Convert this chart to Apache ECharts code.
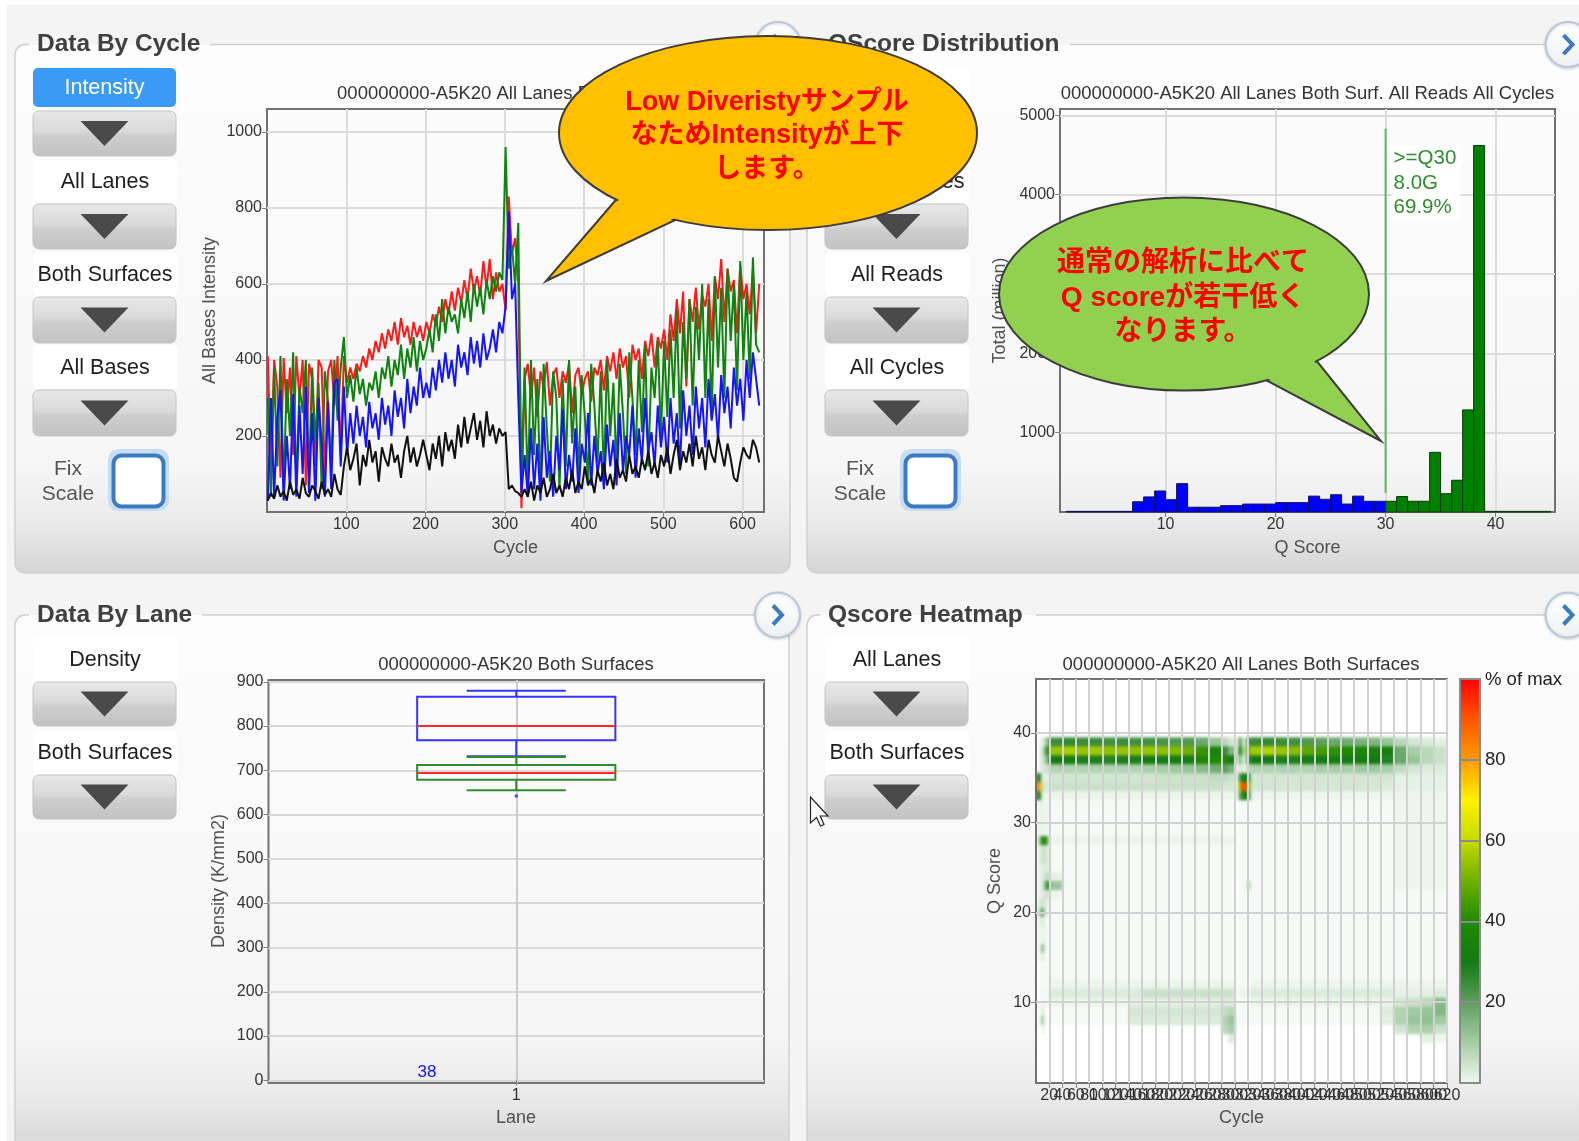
<!DOCTYPE html>
<html>
<head>
<meta charset="utf-8">
<script src="https://cdn.jsdelivr.net/npm/echarts@6/dist/echarts.min.js"></script>
<style>
  html, body { margin: 0; padding: 0; background: #ffffff; }
  #stage { position: relative; width: 1579px; height: 1141px; overflow: hidden; }
  #base, #overlay { position: absolute; left: 0; top: 0; width: 1579px; height: 1141px; }
  #heatClip { position: absolute; overflow: hidden; }
  #heat { position: absolute; left: 0; top: 0; filter: blur(1.6px); }
  #overlay { pointer-events: none; }
</style>
</head>
<body>
<div id="stage">
  <div id="base"></div>
  <div id="heatClip"><div id="heat"></div></div>
  <div id="overlay"></div>
</div>
<script>
// ---------------- Data by cycle: mean intensity per channel (every 4th cycle from cycle 1) ----------------
const CYCLE_START = 1;
const CYCLE_STEP = 4;
const intensityRed = [
  410,120,400,330,90,405,260,380,150,410,300,400,70,390,350,120,400,380,90,370,400,280,410,150,
  410,340,380,350,390,370,410,380,430,400,450,420,470,430,480,450,500,440,510,460,490,440,500,460,490,450,
  500,470,520,490,540,500,560,520,580,530,590,550,610,560,640,580,620,570,660,590,665,560,630,580,600,
  530,830,680,720,600,10,
  350,390,300,380,250,370,330,395,280,360,380,300,370,340,390,260,360,380,310,350,370,290,380,360,400,320,410,370,420,350,430,380,410,300,440,400,430,350,450,410,470,380,460,430,
  480,400,520,450,560,470,580,330,560,500,590,480,570,540,600,450,620,560,665,500,640,580,610,470,650,560,600,520,640,470,600
];
const intensityGreen = [
  300,40,380,120,410,60,350,200,420,70,330,260,400,90,380,180,340,60,370,290,110,400,240,380,
  460,300,360,290,380,310,350,280,340,320,370,300,380,350,410,330,400,360,440,350,430,380,460,370,450,400,
  430,480,420,520,450,560,470,540,500,520,470,560,510,580,500,600,540,590,520,610,560,620,580,630,610,
  960,640,700,600,760,80,
  380,60,400,150,350,50,390,220,80,370,300,60,350,120,400,180,330,90,360,250,70,390,280,130,370,90,400,200,340,110,390,260,100,420,300,150,400,210,440,120,380,300,450,200,
  450,250,480,300,530,220,500,350,560,280,540,400,600,300,560,250,620,380,590,300,640,450,600,320,660,400,580,350,670,440,420
];
const intensityBlue = [
  30,300,40,250,320,30,200,60,310,40,280,100,330,50,260,30,300,180,40,290,60,340,350,120,
  330,150,260,180,280,200,250,170,290,220,260,190,300,230,280,200,320,250,300,220,350,260,330,280,380,300,
  340,300,380,320,400,340,420,350,400,330,440,380,420,360,460,390,450,380,470,400,430,480,420,500,470,
  540,790,560,600,300,50,
  150,40,220,60,180,30,250,90,160,40,200,110,270,60,150,80,220,50,180,130,260,70,200,100,160,60,230,120,190,70,260,110,200,150,280,90,220,130,300,160,210,120,280,170,
  250,130,300,180,260,120,320,200,280,150,330,220,300,170,350,240,310,190,360,260,330,220,380,280,350,240,400,300,420,350,280
];
const intensityBlack = [
  30,50,35,70,40,55,30,80,45,60,35,90,50,40,70,55,35,80,45,60,40,100,60,45,
  120,170,110,140,180,70,150,120,190,130,160,80,170,140,120,180,130,150,90,160,200,130,170,120,150,190,
  150,110,180,140,200,120,210,160,190,140,230,170,250,180,220,260,190,240,170,265,200,230,180,220,200,
  210,60,70,55,50,40,
  60,40,80,30,70,50,90,40,60,100,50,70,40,90,60,110,50,80,60,120,70,90,50,110,80,130,70,100,60,140,90,110,80,150,100,120,90,140,110,160,100,130,90,150,
  120,170,100,150,190,110,160,130,180,120,200,140,170,110,190,150,130,200,160,120,180,140,90,80,130,170,150,140,190,170,130
];
const cycleTicks = [100, 200, 300, 400, 500, 600];
const intensityTicks = [200, 400, 600, 800, 1000];

// ---------------- QScore distribution (millions of bases per Q score) ----------------
const qscoreBins = [1,2,3,4,5,6,7,8,9,10,11,12,13,14,15,16,17,18,19,20,21,22,23,24,25,26,27,28,29,30,31,32,33,34,35,36,37,38,39,40,41,42,43,44];
const qscoreTotals = [8,8,8,8,8,8,129,190,265,155,357,60,60,60,80,80,100,100,100,118,118,118,200,160,218,100,200,135,135,135,195,135,135,752,231,400,1287,4620,8,8,8,8,8,8];
const q30Threshold = 30;
const q30LineSpan = [240, 4830];
const q30Summary = ['>=Q30', '8.0G', '69.9%'];
const qscoreTicksX = [10, 20, 30, 40];
const qscoreTicksY = [1000, 2000, 3000, 4000, 5000];

// ---------------- Data by lane: cluster density box plots ----------------
const laneTicks = [1];
const densityBoxBlue = [732, 768, 800, 866, 880];   // min, q1, median, q3, max
const densityBoxGreen = [655, 679, 694, 712, 730];
const densityOutliers = [642];
const laneTileCount = '38';
const densityTicks = [0, 100, 200, 300, 400, 500, 600, 700, 800, 900];

// ---------------- Qscore heatmap (% of max, rows = Q score, columns = cycle ranges) ----------------
const heatCycleEdges = [0,4,8,12,16,20,40,60,80,100,120,140,160,180,200,220,240,260,280,290,300,305,310,318,324,340,360,380,400,420,440,460,480,500,520,540,560,580,600,620];
const heatQScores = [39,38,37,36,35,34,33,32,31,30,29,28,27,26,25,24,23,22,21,20,19,18,17,16,15,14,13,12,11,10,9,8,7,6];
const heatValues = [
  [0,2,3,8,15, 25,26,25,25,24,25,24,24,23,22,22,18,12,8,5, 0, 20,6,22, 25,26,25,24,22,20,18,17,16,15,12, 8,5,4,3],
  [0,3,6,18,36, 55,57,55,56,54,55,54,55,54,52,50,43,35,25,15, 0, 38,10,52, 56,58,55,53,48,45,42,40,38,36,32, 18,10,8,6],
  [0,3,5,10,18, 30,30,29,29,28,29,29,30,30,31,32,38,40,38,30, 0, 15,5,25, 30,30,29,29,30,30,31,31,32,30,28, 18,12,8,6],
  [0,3,4,5,6, 9,9,9,9,9,9,9,10,10,11,12,14,17,20,16, 0, 5,3,7, 9,9,9,9,9,10,10,10,11,11,10, 7,5,4,4],
  [30,25,3,3,3, 5,5,5,5,5,5,5,5,6,6,6,6,7,7,6, 0, 22,32,22, 5,5,5,5,5,5,5,5,5,5,5, 3,3,3,3],
  [90,75,8,4,4, 6,6,6,6,6,6,6,6,6,6,6,6,6,5,5, 0, 55,92,55, 5,5,5,5,5,5,5,5,5,5,4, 3,3,3,3],
  [30,25,3,2,2, 2,2,2,2,2,2,2,2,2,2,2,2,2,2,2, 0, 18,32,20, 2,2,2,2,2,2,2,2,2,2,2, 2,2,2,2],
  [1,3,2,2,2, 1,1,1,1,1,1,1,1,1,1,1,1,1,1,1, 0, 1,1,1, 1,1,1,1,1,1,1,1,1,1,1, 2,2,2,2],
  [1,3,2,2,2, 1,1,1,1,1,1,1,1,1,1,1,1,1,1,1, 0, 1,1,1, 1,1,1,1,1,1,1,1,1,1,1, 2,2,2,2],
  [1,3,2,2,2, 1,1,1,1,1,1,1,1,1,1,1,1,1,1,1, 0, 1,1,1, 1,1,1,1,1,1,1,1,1,1,1, 2,2,2,2],
  [1,3,2,2,2, 1,1,1,1,1,1,1,1,1,1,1,1,1,1,1, 0, 1,1,1, 1,1,1,1,1,1,1,1,1,1,1, 2,2,2,2],
  [1,15,40,40,15, 2,2,2,2,2,2,2,2,2,2,2,2,2,2,2, 0, 1,1,1, 1,1,1,1,1,1,1,1,1,1,1, 2,2,2,2],
  [1,4,6,6,4, 1,1,1,1,1,1,1,1,1,1,1,1,1,1,1, 0, 1,1,1, 1,1,1,1,1,1,1,1,1,1,1, 2,2,2,2],
  [1,4,6,6,4, 1,1,1,1,1,1,1,1,1,1,1,1,1,1,1, 0, 1,1,1, 1,1,1,1,1,1,1,1,1,1,1, 2,2,2,2],
  [1,3,4,4,4, 1,1,1,1,1,1,1,1,1,1,1,1,1,1,1, 0, 1,1,1, 1,1,1,1,1,1,1,1,1,1,1, 2,2,2,2],
  [1,3,4,6,8, 3,1,1,1,1,1,1,1,1,1,1,1,1,1,1, 0, 1,1,1, 1,1,1,1,1,1,1,1,1,1,1, 2,2,2,2],
  [1,3,4,15,38, 12,1,1,1,1,1,1,1,1,1,1,1,1,1,1, 0, 1,1,8, 1,1,1,1,1,1,1,1,1,1,1, 2,2,2,2],
  [1,3,4,5,6, 2,1,1,1,1,1,1,1,1,1,1,1,1,1,1, 0, 1,1,1, 1,1,1,1,1,1,1,1,1,1,1, 1,1,1,1],
  [1,5,6,4,3, 1,1,1,1,1,1,1,1,1,1,1,1,1,1,1, 0, 1,1,1, 1,1,1,1,1,1,1,1,1,1,1, 1,1,1,1],
  [1,10,20,4,2, 1,1,1,1,1,1,1,1,1,1,1,1,1,1,1, 0, 1,1,1, 1,1,1,1,1,1,1,1,1,1,1, 1,1,1,1],
  [1,3,4,2,1, 1,1,1,1,1,1,1,1,1,1,1,1,1,1,1, 0, 1,1,1, 1,1,1,1,1,1,1,1,1,1,1, 1,1,1,1],
  [1,2,2,2,1, 1,1,1,1,1,1,1,1,1,1,1,1,1,1,1, 0, 1,1,1, 1,1,1,1,1,1,1,1,1,1,1, 1,1,1,1],
  [1,2,2,2,1, 1,1,1,1,1,1,1,1,1,1,1,1,1,1,1, 0, 1,1,1, 1,1,1,1,1,1,1,1,1,1,1, 1,1,1,1],
  [1,2,15,2,1, 1,1,1,1,1,1,1,1,1,1,1,1,1,1,1, 0, 1,1,1, 1,1,1,1,1,1,1,1,1,1,1, 1,1,1,1],
  [1,1,4,1,1, 1,1,1,1,1,1,1,1,1,1,1,1,1,1,1, 0, 1,1,1, 1,1,1,1,1,1,1,1,1,1,1, 1,1,1,1],
  [0,1,1,1,1, 1,1,1,1,1,1,1,1,1,1,1,1,1,1,1, 0, 1,1,1, 1,1,1,1,1,1,1,1,1,1,1, 1,1,1,1],
  [0,1,1,1,1, 1,1,1,1,1,1,1,1,1,1,1,1,1,1,1, 0, 1,1,1, 1,1,1,1,1,1,1,1,1,1,1, 1,1,1,1],
  [0,1,1,1,1, 2,2,2,2,2,2,2,2,2,2,2,2,2,2,2, 0, 1,1,1, 2,2,2,2,2,2,2,2,2,2,2, 2,2,2,2],
  [0,1,2,1,1, 4,4,4,4,4,4,4,6,6,6,6,6,6,6,6, 0, 2,2,2, 4,4,4,4,4,4,4,4,4,4,4, 3,3,3,4],
  [0,1,2,1,1, 2,2,2,2,2,2,3,3,3,3,3,3,3,4,4, 0, 1,1,1, 2,2,2,2,2,2,2,2,2,2,2, 5,6,8,14],
  [0,1,4,1,0, 1,1,1,1,1,1,5,5,5,5,5,5,5,7,8, 0, 1,1,1, 1,1,1,1,1,1,1,1,1,1,4, 9,11,12,15],
  [0,2,12,1,0, 1,1,1,1,1,1,4,4,4,4,4,4,4,9,12, 0, 1,1,1, 1,1,1,1,1,1,1,1,1,1,3, 9,12,13,11],
  [0,0,2,0,0, 0,0,0,0,0,0,0,0,0,0,0,0,0,8,10, 0, 0,0,0, 0,0,0,0,0,0,0,0,0,0,0, 5,9,10,6],
  [0,0,0,0,0, 0,0,0,0,0,0,0,0,0,0,0,0,0,0,4, 0, 0,0,0, 0,0,0,0,0,0,0,0,0,0,0, 0,0,3,2]
];
const heatCycleTicks = [20,40,60,80,100,120,140,160,180,200,220,240,260,280,300,320,340,360,380,400,420,440,460,480,500,520,540,560,580,600,620];
const heatQTicks = [10, 20, 30, 40];
const heatColorStops = ['#ffffff', '#a6cfa6', '#5e9f5e', '#157a15', '#1f8a00', '#6fb000', '#c5dc00', '#fff200', '#ff9900', '#ff5500', '#ff0000'];
const heatLegendColors = ['#f2f8f2', '#a6cfa6', '#5e9f5e', '#157a15', '#1f8a00', '#6fb000', '#c5dc00', '#fff200', '#ff9900', '#ff5500', '#ff0000'];
const heatLegendTicks = [20, 40, 60, 80];

// ---------------- layout ----------------
const FONT = '"Liberation Sans", Arial, "Noto Sans CJK JP", sans-serif';
const LABEL_COLOR = '#333333';
const NAME_COLOR = '#505050';
const GRID_INTENSITY = { left: 267, top: 109, width: 497, height: 403 };
const GRID_QSCORE = { left: 1060, top: 109, width: 495, height: 403 };
const GRID_DENSITY = { left: 268.5, top: 680, width: 495.5, height: 403 };
const GRID_HEAT = { left: 1036, top: 679, width: 411, height: 404 };
const GRID_LEGEND = { left: 1460, top: 679, width: 20, height: 404 };
const BOX_HALF = 0.2, CAP_HALF = 0.1;

const CENTER = { align: 'center', verticalAlign: 'middle', textAlign: 'center', textVerticalAlign: 'middle' };
const LEFT = { align: 'left', verticalAlign: 'middle', textAlign: 'left', textVerticalAlign: 'middle' };

function text(x, y, str, size, color, opts) {
  opts = opts || {};
  return {
    type: 'text', x, y, z: opts.z == null ? 5 : opts.z, rotation: opts.rotation || 0,
    style: Object.assign({ text: str, fill: color, font: (opts.weight || 'normal') + ' ' + size + 'px ' + FONT,
      lineHeight: opts.lineHeight }, opts.left ? LEFT : CENTER)
  };
}
function vgrad(stops) {
  return { type: 'linear', x: 0, y: 0, x2: 0, y2: 1, colorStops: stops.map(s => ({ offset: s[0], color: s[1] })) };
}
function gridRect(g) { return { x: g.left, y: g.top, width: g.width, height: g.height }; }

// ---------------- UI chrome ----------------
const g = [];
g.push({ type: 'rect', z: -20, shape: { x: 0, y: 0, width: 1579, height: 1141 }, style: { fill: '#ffffff' } });
g.push({ type: 'rect', z: -19, shape: { x: 7, y: 5, width: 1572, height: 1136 }, style: { fill: '#f4f4f4' } });

const topPanelFill = vgrad([[0, '#fdfdfd'], [0.8, '#f6f6f6'], [0.9, '#ebebeb'], [1, '#d5d5d5']]);
const bottomPanelFill = vgrad([[0, '#fdfdfd'], [0.75, '#f5f5f5'], [0.85, '#ebebeb'], [0.94, '#dadada'], [1, '#d0d0d0']]);
function panel(x, y, w, h, fill) {
  g.push({ type: 'rect', z: -18, shape: { x, y, width: w, height: h, r: 10 }, style: { fill, stroke: '#d0d0d0', lineWidth: 1.5 } });
}
panel(15, 44.6, 775, 528.4, topPanelFill);
panel(807, 44.6, 800, 528.4, topPanelFill);
panel(15, 615, 774, 560, bottomPanelFill);
panel(807, 615, 800, 560, bottomPanelFill);

function panelTitle(x, y, str, coverEnd) {
  g.push({ type: 'rect', z: -17, shape: { x: x - 8, y: y - 15, width: coverEnd - x + 8, height: 30 },
    style: { fill: vgrad([[0, '#f4f4f4'], [0.5, '#f4f4f4'], [0.5, '#fdfdfd'], [1, '#fdfdfd']]) } });
  g.push(text(x, y, str, 24.5, '#404040', { weight: 'bold', left: true, z: -16 }));
}
panelTitle(37, 44.6, 'Data By Cycle', 210);
panelTitle(828, 44.6, 'QScore Distribution', 1070);
panelTitle(37, 615, 'Data By Lane', 202);
panelTitle(828, 615, 'Qscore Heatmap', 1036);

function roundButton(cx, cy) {
  g.push({ type: 'circle', z: 3, shape: { cx, cy, r: 22.5 },
    style: { fill: vgrad([[0, '#ffffff'], [1, '#eef1f4']]), stroke: '#b9c8da', lineWidth: 2,
      shadowBlur: 3, shadowColor: 'rgba(0,0,0,0.15)', shadowOffsetY: 1 } });
  g.push({ type: 'polyline', z: 4, shape: { points: [[cx - 4.5, cy - 9.5], [cx + 4.5, cy], [cx - 4.5, cy + 9.5]] },
    style: { stroke: '#3a7bbf', lineWidth: 4, fill: 'none', lineJoin: 'miter' } });
}
roundButton(778, 44.6);
roundButton(1568, 44.6);
roundButton(777.5, 615);
roundButton(1568, 615);

function arrowButton(x, y, h) {
  const w = 143, cx = x + w / 2, cy = y + h / 2;
  g.push({ type: 'rect', z: 1, shape: { x, y, width: w, height: h, r: 6 },
    style: { fill: vgrad([[0, '#e9e9e9'], [0.45, '#dadada'], [0.55, '#cecece'], [1, '#c2c2c2']]), stroke: '#c4c4c4', lineWidth: 1 } });
  g.push({ type: 'polygon', z: 2, shape: { points: [[cx - 24, cy - 12.5], [cx + 24, cy - 12.5], [cx, cy + 12.5]] }, style: { fill: '#4a4a4a' } });
}
function labelBox(x, y, h, str) {
  g.push({ type: 'rect', z: 1, shape: { x, y, width: 145, height: h, r: 5 }, style: { fill: '#ffffff' } });
  g.push(text(x + 72, y + h / 2 + 1, str, 21.5, '#1e1e1e', { z: 2 }));
}
function fixScale(x) {
  g.push(text(x + 35, 482, 'Fix\nScale', 21, '#555555', { z: 2, lineHeight: 24.6 }));
  g.push({ type: 'rect', z: 1, shape: { x: x + 75, y: 449, width: 61, height: 62, r: 10 }, style: { fill: '#c9ddf0' } });
  g.push({ type: 'rect', z: 2, shape: { x: x + 80.5, y: 455.5, width: 50, height: 51, r: 8 }, style: { fill: '#ffffff', stroke: '#3b7bc4', lineWidth: 4 } });
}

// Data By Cycle controls
g.push({ type: 'rect', z: 1, shape: { x: 33, y: 68, width: 143, height: 39, r: 5 }, style: { fill: '#3a9bf7' } });
g.push(text(104.5, 88, 'Intensity', 21.5, '#ffffff', { z: 2 }));
arrowButton(33, 111, 45);
labelBox(33, 160, 42, 'All Lanes');
arrowButton(33, 204, 45);
labelBox(33, 252, 44, 'Both Surfaces');
arrowButton(33, 297, 46);
labelBox(33, 345, 44, 'All Bases');
arrowButton(33, 390, 46);
fixScale(33);

// QScore Distribution controls
labelBox(825, 66, 42, 'All Lanes');
arrowButton(825, 111, 45);
labelBox(825, 160, 42, 'Both Surfaces');
arrowButton(825, 204, 45);
labelBox(825, 252, 44, 'All Reads');
arrowButton(825, 297, 46);
labelBox(825, 345, 44, 'All Cycles');
arrowButton(825, 390, 46);
fixScale(825);

// Data By Lane / Heatmap controls
labelBox(33, 637, 44, 'Density');
arrowButton(33, 682, 44);
labelBox(33, 731, 43, 'Both Surfaces');
arrowButton(33, 775, 44);
labelBox(825, 637, 44, 'All Lanes');
arrowButton(825, 682, 44);
labelBox(825, 731, 43, 'Both Surfaces');
arrowButton(825, 775, 44);

// chart titles and axis names
const TITLE_SIZE = 18.5, NAME_SIZE = 18;
g.push(text(515.5, 94, '000000000-A5K20 All Lanes Both Surfaces', TITLE_SIZE, LABEL_COLOR));
g.push(text(1307.5, 94, '000000000-A5K20 All Lanes Both Surf. All Reads All Cycles', TITLE_SIZE, LABEL_COLOR));
g.push(text(516, 665, '000000000-A5K20 Both Surfaces', TITLE_SIZE, LABEL_COLOR));
g.push(text(1241, 665, '000000000-A5K20 All Lanes Both Surfaces', TITLE_SIZE, LABEL_COLOR));
g.push(text(210, 310.5, 'All Bases Intensity', NAME_SIZE, NAME_COLOR, { rotation: Math.PI / 2 }));
g.push(text(515.5, 548, 'Cycle', NAME_SIZE, NAME_COLOR));
g.push(text(1000, 310.5, 'Total (million)', NAME_SIZE, NAME_COLOR, { rotation: Math.PI / 2 }));
g.push(text(1307.5, 548, 'Q Score', NAME_SIZE, NAME_COLOR));
g.push(text(219, 881, 'Density (K/mm2)', NAME_SIZE, NAME_COLOR, { rotation: Math.PI / 2 }));
g.push(text(516, 1118, 'Lane', NAME_SIZE, NAME_COLOR));
g.push(text(995.5, 881, 'Q Score', NAME_SIZE, NAME_COLOR, { rotation: Math.PI / 2 }));
g.push(text(1241.5, 1118, 'Cycle', NAME_SIZE, NAME_COLOR));
g.push(text(1485, 680, '% of max', 18.5, '#222222', { left: true }));

// heatmap plot background
g.push({ type: 'rect', z: -1, shape: gridRect(GRID_HEAT), style: { fill: '#ffffff' } });

// speech bubbles
function dist(a, b) { return Math.hypot(a[0] - b[0], a[1] - b[1]); }
function shrinkTriangle(pts, d) {
  const [A, B, C] = pts;
  const a = dist(B, C), b = dist(A, C), c = dist(A, B), p = a + b + c;
  const I = [(a * A[0] + b * B[0] + c * C[0]) / p, (a * A[1] + b * B[1] + c * C[1]) / p];
  const area = Math.abs((B[0] - A[0]) * (C[1] - A[1]) - (C[0] - A[0]) * (B[1] - A[1])) / 2;
  const r = area / (p / 2), k = (r - d) / r;
  return pts.map(P => [I[0] + (P[0] - I[0]) * k, I[1] + (P[1] - I[1]) * k]);
}
function bubble(cx, cy, rx, ry, tail, fill, str, tx, ty, size, lh) {
  g.push({ type: 'polygon', z: 50, shape: { points: tail }, style: { fill, stroke: '#3c3c3c', lineWidth: 2, lineJoin: 'miter' } });
  g.push({ type: 'ellipse', z: 51, shape: { cx, cy, rx, ry }, style: { fill, stroke: '#3c3c3c', lineWidth: 2 } });
  g.push({ type: 'polygon', z: 52, shape: { points: shrinkTriangle(tail, 2.2) }, style: { fill } });
  g.push(text(tx, ty, str, size, '#ff0000', { weight: 'bold', z: 53, lineHeight: lh }));
}
bubble(768, 133, 209, 97, [[621, 194], [686, 215], [546, 281]], '#ffc000',
  'Low Diveristyサンプル\nなためIntensityが上下\nします。', 767, 136, 27, 33.5);
bubble(1184, 294, 185, 96.5, [[1312, 355], [1258, 376], [1381, 441]], '#92d050',
  '通常の解析に比べて\nQ scoreが若干低く\nなります。', 1183, 298, 28, 34.5);

// mouse pointer
const tip = [810.5, 797];
g.push({ type: 'polygon', z: 60,
  shape: { points: [[0, 0], [0, 26], [6, 20.5], [10, 29], [13.5, 27.5], [9.7, 19], [17.5, 19]].map(p => [tip[0] + p[0], tip[1] + p[1]]) },
  style: { fill: '#ffffff', stroke: '#222222', lineWidth: 1.2, lineJoin: 'miter' } });

// ---------------- axes helpers ----------------
const plainNumber = v => String(v);
function valueAxis(gridIndex, min, max, ticks, extra) {
  return Object.assign({
    type: 'value', gridIndex, min, max,
    axisLine: { show: false },
    axisTick: { show: true, customValues: ticks, length: 5, lineStyle: { color: '#808080', width: 1 } },
    axisLabel: { customValues: ticks, formatter: plainNumber, fontSize: 16, color: LABEL_COLOR, fontFamily: FONT, margin: 5,
      hideOverlap: false, showMinLabel: true, showMaxLabel: true },
    splitLine: { show: true, lineStyle: { color: '#dcdcdc', width: 2 } },
    splitArea: { show: false }
  }, extra || {});
}
function gridOf(r, extra) {
  return Object.assign({ left: r.left, top: r.top, width: r.width, height: r.height, containLabel: false,
    outerBoundsMode: 'none', show: true, backgroundColor: 'transparent', borderColor: '#727272', borderWidth: 2 }, extra || {});
}
const toCycleSeries = vals => vals.map((v, i) => [CYCLE_START + i * CYCLE_STEP, v]);
function intensityLine(name, vals, color) {
  return { type: 'line', name, xAxisIndex: 0, yAxisIndex: 0, data: toCycleSeries(vals), showSymbol: false, symbol: 'none',
    lineStyle: { color, width: 2 }, itemStyle: { color }, animation: false, z: 2 };
}
function boxRenderer(color, withCount) {
  return function (params, api) {
    const x = api.value(0);
    const mn = api.value(1), q1 = api.value(2), md = api.value(3), q3 = api.value(4), mx = api.value(5);
    const y = v => api.coord([x, v])[1];
    const c = api.coord([x, 0])[0];
    const bl = api.coord([x - BOX_HALF, 0])[0], br = api.coord([x + BOX_HALF, 0])[0];
    const cl = api.coord([x - CAP_HALF, 0])[0], cr = api.coord([x + CAP_HALF, 0])[0];
    const st = { stroke: color, lineWidth: 2, fill: 'none' };
    const kids = [
      { type: 'line', shape: { x1: c, y1: y(q3), x2: c, y2: y(mx) }, style: st },
      { type: 'line', shape: { x1: c, y1: y(q1), x2: c, y2: y(mn) }, style: st },
      { type: 'line', shape: { x1: cl, y1: y(mx), x2: cr, y2: y(mx) }, style: st },
      { type: 'line', shape: { x1: cl, y1: y(mn), x2: cr, y2: y(mn) }, style: st },
      { type: 'rect', shape: { x: bl, y: y(q3), width: br - bl, height: y(q1) - y(q3) }, style: st },
      { type: 'line', shape: { x1: bl, y1: y(md), x2: br, y2: y(md) }, style: { stroke: '#ff2a2a', lineWidth: 2 } }
    ];
    if (withCount) {
      kids.push({ type: 'text', x: api.coord([x - 0.18, 0])[0], y: y(0) - 8,
        style: Object.assign({ text: laneTileCount, fill: '#1010ff', font: '17px ' + FONT }, CENTER) });
    }
    return { type: 'group', children: kids };
  };
}

// ---------------- base chart ----------------
const chartA = echarts.init(document.getElementById('base'), null, { renderer: 'canvas', width: 1579, height: 1141 });
chartA.setOption({
  animation: false,
  textStyle: { fontFamily: FONT },
  graphic: { elements: g },
  grid: [gridOf(GRID_INTENSITY), gridOf(GRID_QSCORE), gridOf(GRID_DENSITY)],
  xAxis: [
    valueAxis(0, 0, 627, cycleTicks),
    valueAxis(1, 0.4, 45.4, qscoreTicksX),
    valueAxis(2, 0.5, 1.5, laneTicks, { splitLine: { show: true, lineStyle: { color: '#cccccc', width: 2 } } })
  ],
  yAxis: [
    valueAxis(0, 0, 1060, intensityTicks),
    valueAxis(1, 0, 5080, qscoreTicksY),
    valueAxis(2, -6, 904, densityTicks, { splitLine: { show: true, lineStyle: { color: '#d8d8d8', width: 2 } } })
  ],
  series: [
    intensityLine('T', intensityRed, '#ff1a1a'),
    intensityLine('A', intensityGreen, '#0f820f'),
    intensityLine('C', intensityBlue, '#1414ff'),
    intensityLine('G', intensityBlack, '#111111'),
    {
      type: 'custom', xAxisIndex: 1, yAxisIndex: 1, z: 3,
      data: qscoreBins.map((q, i) => [q, qscoreTotals[i]]),
      renderItem(params, api) {
        const q = api.value(0), v = api.value(1);
        const p0 = api.coord([q, v]), p1 = api.coord([q + 1, 0]);
        const hi = q >= q30Threshold;
        return { type: 'rect', shape: { x: p0[0], y: p0[1], width: p1[0] - p0[0], height: p1[1] - p0[1] },
          style: { fill: hi ? '#008000' : '#0000ff', stroke: hi ? '#0b3a0b' : '#10105a', lineWidth: 1 } };
      }
    },
    {
      type: 'custom', xAxisIndex: 1, yAxisIndex: 1, z: 4,
      data: [[q30Threshold, q30LineSpan[0], q30LineSpan[1]]],
      renderItem(params, api) {
        const top = api.coord([api.value(0), api.value(2)]), bot = api.coord([api.value(0), api.value(1)]);
        return { type: 'group', children: [
          { type: 'line', shape: { x1: top[0], y1: top[1], x2: bot[0], y2: bot[1] }, style: { stroke: '#5cb85c', lineWidth: 2 } },
          { type: 'text', x: top[0] + 6, y: top[1] + 17,
            style: { text: q30Summary.join('\n'), fill: '#2d8f2d', font: '20.5px ' + FONT, lineHeight: 24.7,
              backgroundColor: '#ffffff', padding: [0, 4, 0, 2], align: 'left', verticalAlign: 'top', textAlign: 'left', textVerticalAlign: 'top' } }
        ] };
      }
    },
    { type: 'custom', xAxisIndex: 2, yAxisIndex: 2, z: 3, data: [[1].concat(densityBoxBlue)], renderItem: boxRenderer('#3535ff', true) },
    { type: 'custom', xAxisIndex: 2, yAxisIndex: 2, z: 3, data: [[1].concat(densityBoxGreen)], renderItem: boxRenderer('#2e8b2e', false) },
    { type: 'scatter', xAxisIndex: 2, yAxisIndex: 2, z: 3, data: densityOutliers.map(v => [1, v]), symbol: 'rect', symbolSize: 3,
      itemStyle: { color: '#2020ff' } }
  ]
});

// ---------------- heatmap cells (smoothed layer) ----------------
const heatClip = document.getElementById('heatClip');
const heatDiv = document.getElementById('heat');
Object.assign(heatClip.style, { left: GRID_HEAT.left + 'px', top: GRID_HEAT.top + 'px', width: GRID_HEAT.width + 'px', height: GRID_HEAT.height + 'px' });
Object.assign(heatDiv.style, { width: GRID_HEAT.width + 'px', height: GRID_HEAT.height + 'px' });
const heatCells = [];
heatQScores.forEach((q, r) => {
  heatValues[r].forEach((v, b) => {
    if (v > 0) heatCells.push([heatCycleEdges[b], heatCycleEdges[b + 1], q, v]);
  });
});
const chartB = echarts.init(heatDiv, null, { renderer: 'canvas', width: GRID_HEAT.width, height: GRID_HEAT.height });
chartB.setOption({
  animation: false,
  grid: { left: 0, top: 0, right: 0, bottom: 0, containLabel: false, outerBoundsMode: 'none', show: false },
  xAxis: { type: 'value', min: 0, max: 620, show: false },
  yAxis: { type: 'value', min: 1, max: 46, show: false },
  visualMap: { type: 'continuous', min: 0, max: 100, dimension: 3, show: false, seriesIndex: 0, inRange: { color: heatColorStops } },
  series: [{
    type: 'custom', data: heatCells, encode: { x: [0, 1], y: 2 },
    renderItem(params, api) {
      const a = api.coord([api.value(0), api.value(2) + 0.5]);
      const b = api.coord([api.value(1), api.value(2) - 0.5]);
      return { type: 'rect', shape: { x: a[0], y: a[1], width: b[0] - a[0] + 0.6, height: b[1] - a[1] + 0.6 },
        style: { fill: api.visual('color') } };
    }
  }]
});

// ---------------- heatmap axes, grid lines and colour scale ----------------
// The crowded cycle labels are spread over three stacked bottom axes so every one of them is drawn.
const heatGridLine = { show: true, lineStyle: { color: '#d2d2d2', width: 2 } };
const heatCycleAxes = [0, 1, 2].map(k =>
  valueAxis(0, 0, 620, heatCycleTicks.filter((v, i) => i % 3 === k), { position: 'bottom', offset: 0, splitLine: heatGridLine }));
const chartC = echarts.init(document.getElementById('overlay'), null, { renderer: 'canvas', width: 1579, height: 1141 });
chartC.setOption({
  animation: false,
  textStyle: { fontFamily: FONT },
  grid: [
    gridOf(GRID_HEAT),
    gridOf(GRID_LEGEND, { borderColor: '#8a8a8a', borderWidth: 2,
      backgroundColor: vgrad(heatLegendColors.slice().reverse().map((c, i, arr) => [i / (arr.length - 1), c])) })
  ],
  xAxis: heatCycleAxes.concat([{ type: 'value', gridIndex: 1, min: 0, max: 1, show: false }]),
  yAxis: [
    valueAxis(0, 1, 46, heatQTicks, { splitLine: heatGridLine }),
    valueAxis(1, 0, 100, heatLegendTicks, {
      position: 'right',
      axisTick: { show: false, customValues: heatLegendTicks },
      axisLabel: { customValues: heatLegendTicks, formatter: plainNumber, fontSize: 18.5, color: '#222222', fontFamily: FONT, margin: 5 },
      splitLine: { show: true, lineStyle: { color: '#8a8a8a', width: 2 } }
    })
  ],
  series: []
});
</script>
</body>
</html>
